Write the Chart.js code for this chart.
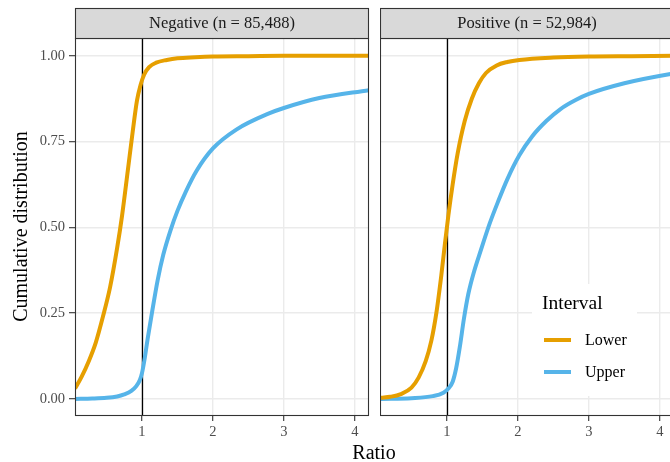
<!DOCTYPE html>
<html><head><meta charset="utf-8">
<script src="https://cdn.jsdelivr.net/npm/chart.js@4"></script>
<style>
html,body{margin:0;padding:0;width:670px;height:462px;overflow:hidden;background:#fff;}
#wrap{position:relative;width:670px;height:462px;overflow:hidden;}
#c1{position:absolute;left:0;top:0;}
#c2{position:absolute;left:380px;top:0;}
#xtitle{position:absolute;left:374px;top:441px;transform:translateX(-50%);font:20px "Liberation Serif";color:#000;white-space:nowrap;line-height:22px;}
</style></head>
<body><div id="wrap"><canvas id="c1" width="370" height="462"></canvas><canvas id="c2" width="296" height="462"></canvas><div id="xtitle">Ratio</div></div>
<script>
// ---- data ----
const panels = ["Negative (n = 85,488)", "Positive (n = 52,984)"];
const seriesNames = ["Lower", "Upper"];
const xTicks = [1, 2, 3, 4];
const yTicks = [0, 0.25, 0.5, 0.75, 1];

const negLowerX = [0.056,0.15,0.25,0.35,0.45,0.55,0.65,0.72,0.80,0.87,0.93,0.98,1.03,1.1,1.2,1.35,1.5,1.75,2.0,2.5,3.0,4.2];
const negLowerY = [0.03,0.065,0.11,0.165,0.24,0.325,0.44,0.535,0.665,0.78,0.87,0.915,0.945,0.967,0.980,0.988,0.993,0.996,0.998,0.999,1.0,1.0];

const negUpperX = [0.056,0.3,0.5,0.65,0.75,0.85,0.92,0.97,1.0,1.04,1.08,1.14,1.22,1.30,1.40,1.50,1.62,1.77,2.0,2.33,2.8,3.0,3.5,4.2];
const negUpperY = [0.0,0.001,0.003,0.007,0.013,0.023,0.037,0.055,0.075,0.12,0.175,0.25,0.345,0.42,0.49,0.548,0.605,0.665,0.73,0.785,0.833,0.848,0.877,0.90];

const posLowerX = [0.07,0.2,0.35,0.5,0.6,0.7,0.78,0.85,0.92,0.97,1.02,1.08,1.15,1.25,1.35,1.45,1.55,1.7,1.85,2.02,2.5,3.0,3.6,4.25];
const posLowerY = [0.003,0.006,0.014,0.033,0.062,0.11,0.17,0.25,0.36,0.45,0.535,0.625,0.715,0.81,0.875,0.92,0.95,0.972,0.982,0.988,0.995,0.998,0.999,1.0];

const posUpperX = [0.07,0.5,0.8,0.95,1.02,1.08,1.13,1.18,1.24,1.30,1.38,1.48,1.6,1.72,1.85,2.02,2.2,2.4,2.6,2.82,3.0,3.5,4.15,4.25];
const posUpperY = [0.0,0.002,0.008,0.018,0.03,0.05,0.09,0.15,0.235,0.305,0.37,0.435,0.51,0.575,0.64,0.71,0.765,0.81,0.845,0.872,0.889,0.92,0.947,0.95];

const vlineAt = 1;
// ---- styling ----
const FONT = "Liberation Serif";
const colors = ["#E69F00", "#56B4E9"];
const xMin = 0.056, xMax = 4.2, yMin = -0.047, yMax = 1.052;

function pts(xs, ys){ return xs.map((x,i)=>({x:x, y:ys[i]})); }

const panelPlugin = {
  id: 'panelDeco',
  beforeDatasetsDraw(chart){
    const {ctx, chartArea:a, scales} = chart;
    const x = Math.round(scales.x.getPixelForValue(vlineAt)) + 0.5;
    ctx.save();
    ctx.beginPath();
    ctx.strokeStyle = '#000';
    ctx.lineWidth = 1.3;
    ctx.moveTo(x, a.top); ctx.lineTo(x, a.bottom);
    ctx.stroke();
    ctx.restore();
  },
  afterDraw(chart, args, opts){
    const {ctx, chartArea:a} = chart;
    ctx.save();
    ctx.strokeStyle = '#333333';
    ctx.lineWidth = 1.1;
    ctx.strokeRect(a.left + 0.5, a.top + 0.5, a.right - a.left - 1, a.bottom - a.top);
    const sTop = 8, sBot = a.top;
    ctx.fillStyle = '#D9D9D9';
    ctx.fillRect(a.left + 0.5, sTop + 0.5, a.right - a.left - 1, sBot - sTop);
    ctx.strokeRect(a.left + 0.5, sTop + 0.5, a.right - a.left - 1, sBot - sTop);
    ctx.fillStyle = '#1A1A1A';
    ctx.font = '16.5px "' + FONT + '"';
    ctx.textAlign = 'center';
    ctx.textBaseline = 'middle';
    ctx.fillText(opts.text, (a.left + a.right) / 2, (sTop + sBot) / 2 + 1);
    if (opts.legend) {
      const L = a.left + 152, T = 284;
      ctx.fillStyle = '#fff';
      ctx.fillRect(L, T, 105, 112);
      ctx.fillStyle = '#000';
      ctx.textAlign = 'left';
      ctx.font = '19.5px "' + FONT + '"';
      ctx.fillText('Interval', L + 10, T + 20);
      ctx.font = '16px "' + FONT + '"';
      chart.data.datasets.forEach((ds, i) => {
        const yy = T + 56 + i * 32;
        ctx.strokeStyle = ds.borderColor;
        ctx.lineWidth = 4;
        ctx.beginPath();
        ctx.moveTo(L + 12, yy); ctx.lineTo(L + 39, yy);
        ctx.stroke();
        ctx.fillStyle = '#000';
        ctx.fillText(ds.label, L + 53, yy + 1);
      });
    }
    ctx.restore();
  }
};

function makeChart(canvas, title, lx, ly, ux, uy, isLeft){
  return new Chart(canvas, {
    type: 'line',
    data: { datasets: [
      { label: seriesNames[0], data: pts(lx, ly), borderColor: colors[0], borderWidth: 4, pointRadius: 0, cubicInterpolationMode: 'monotone', fill: false, clip: 0 },
      { label: seriesNames[1], data: pts(ux, uy), borderColor: colors[1], borderWidth: 4, pointRadius: 0, cubicInterpolationMode: 'monotone', fill: false, clip: 0 }
    ]},
    options: {
      responsive: false, animation: false, devicePixelRatio: 1,
      layout: { padding: { top: 38, left: 0, right: isLeft ? 1 : 2, bottom: 0 } },
      plugins: {
        legend: { display: false }, tooltip: { enabled: false },
        panelDeco: { text: title, legend: !isLeft }
      },
      scales: {
        x: {
          type: 'linear', min: xMin, max: xMax,
          afterBuildTicks: s => { s.ticks = xTicks.map(v => ({ value: v })); },
          afterFit: s => { s.height = 47; },
          grid: { color: '#EBEBEB', lineWidth: 1.4, drawTicks: true, tickLength: 6, tickColor: '#333333', tickWidth: 1.1 },
          border: { display: false },
          ticks: { color: '#4D4D4D', font: { family: FONT, size: 14.5 }, padding: 2, maxRotation: 0, autoSkip: false, callback: v => String(v) }
        },
        y: {
          type: 'linear', min: yMin, max: yMax,
          afterBuildTicks: s => { s.ticks = yTicks.map(v => ({ value: v })); },
          afterFit: s => { s.width = isLeft ? 75 : 0; },
          grid: { color: '#EBEBEB', lineWidth: 1.4, drawTicks: isLeft, tickLength: 6, tickColor: '#333333', tickWidth: 1.1 },
          border: { display: false },
          ticks: { display: isLeft, color: '#4D4D4D', font: { family: FONT, size: 14.5 }, padding: 4, callback: v => v.toFixed(2) },
          title: { display: isLeft, text: 'Cumulative distribution', color: '#000', font: { family: FONT, size: 20 }, padding: { top: 10, bottom: 0 } }
        }
      }
    },
    plugins: [panelPlugin]
  });
}

makeChart(document.getElementById('c1'), panels[0], negLowerX, negLowerY, negUpperX, negUpperY, true);
makeChart(document.getElementById('c2'), panels[1], posLowerX, posLowerY, posUpperX, posUpperY, false);
</script>
</body></html>
